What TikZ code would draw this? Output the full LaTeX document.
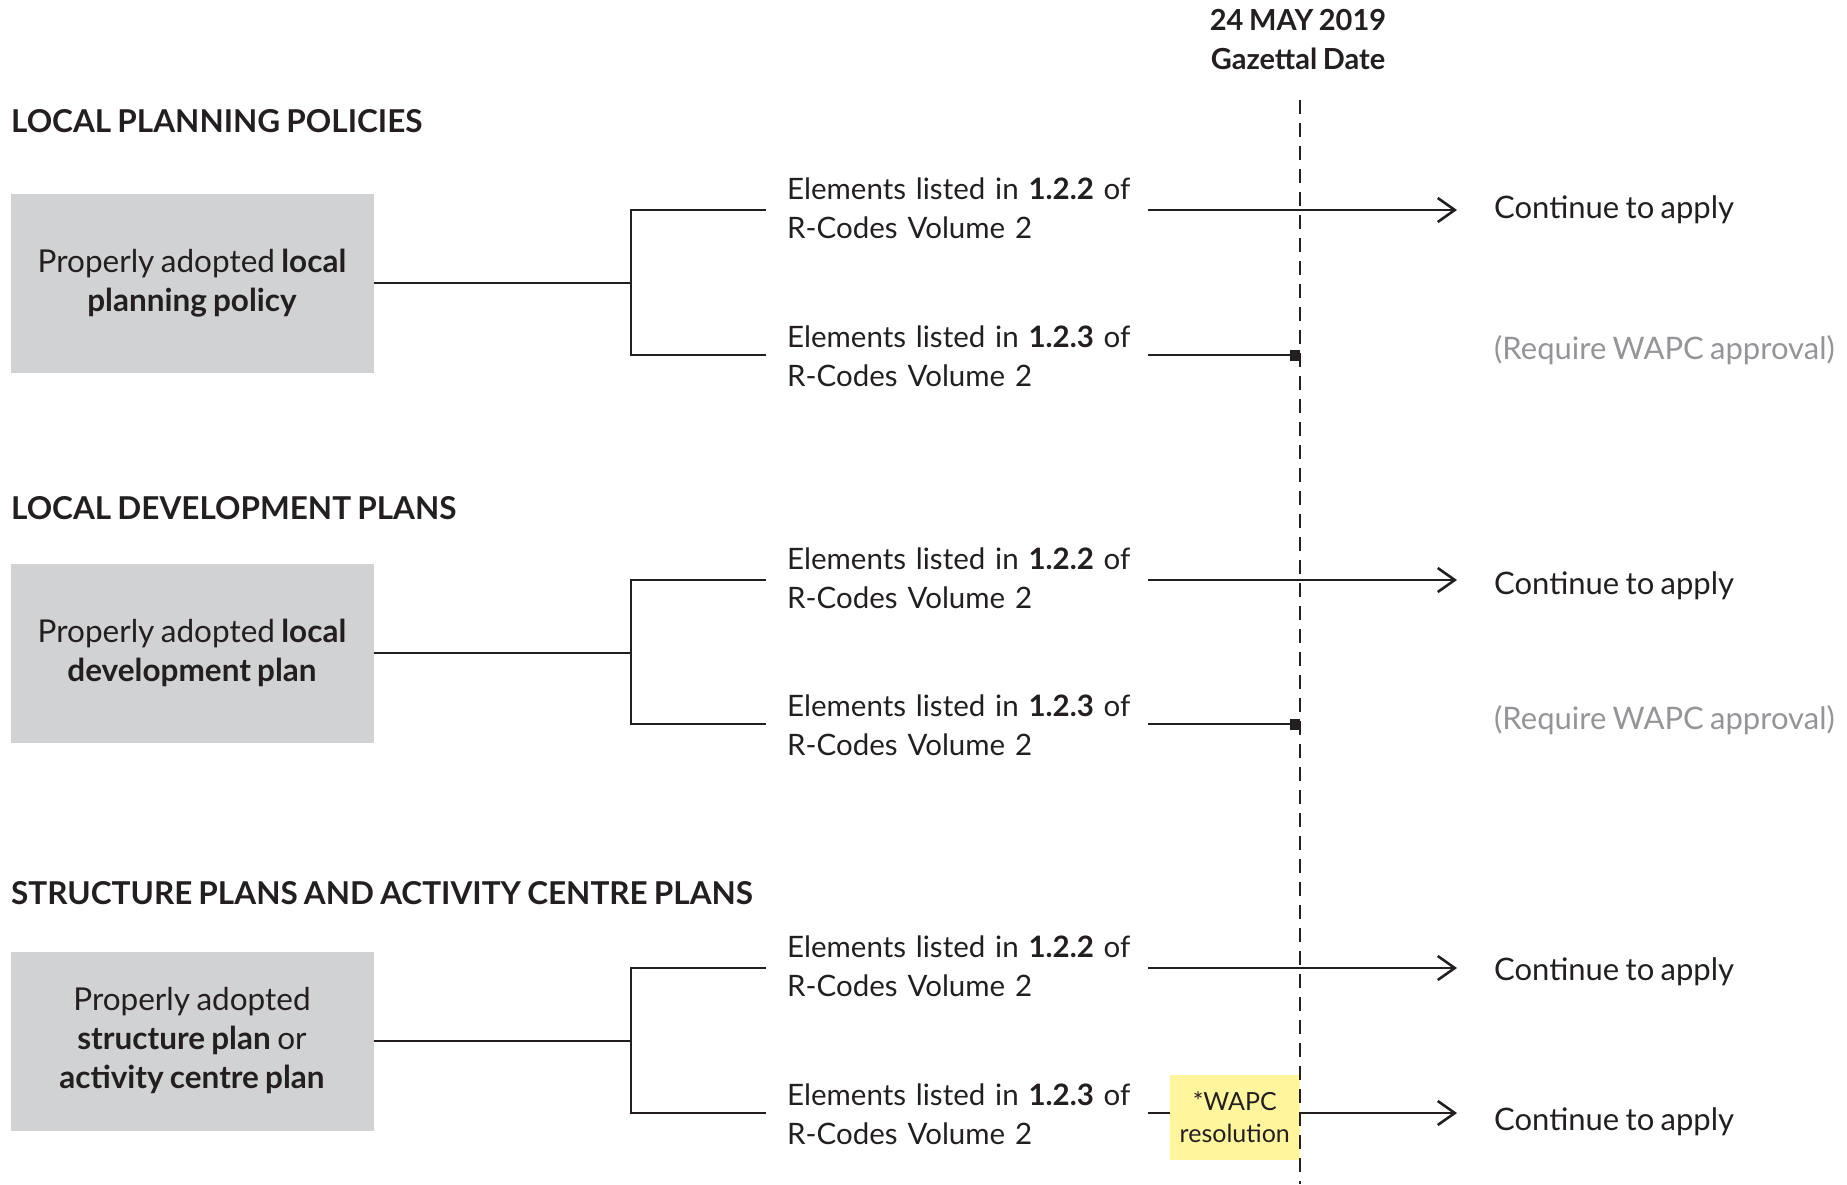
\documentclass[tikz,border=0pt]{standalone}
\usepackage{fontspec}
\setmainfont{Lato}[WordSpace=0.8]
\usetikzlibrary{arrows.meta}
\definecolor{ink}{HTML}{231F20}
\definecolor{boxgray}{HTML}{D1D2D4}
\definecolor{softgray}{HTML}{939598}
\definecolor{note}{HTML}{FFF59D}
\tikzset{
  gbox/.style={fill=boxgray, minimum width=363pt, minimum height=179pt, align=center, inner sep=0pt, font=\fontsize{31.5}{39}\selectfont},
  elem/.style={anchor=west, text width=340pt, align=left, inner sep=0pt, font=\fontsize{29.5}{39}\selectfont},
  head/.style={anchor=west, inner sep=0pt, font=\fontsize{31.5}{36}\selectfont\bfseries},
  res/.style={anchor=west, inner sep=0pt},
  ln/.style={draw=ink, line width=2.6pt},
  arr/.style={ln, -{Straight Barb[length=17pt,width=24pt]}},
  sqend/.style={ln, -{Square[length=10pt,width=11pt]}},
  gazline/.style={draw=ink, line width=2.2pt, dash pattern=on 14pt off 9pt},
  notebox/.style={fill=note, minimum width=130pt, minimum height=85pt, align=center, inner sep=0pt, font=\fontsize{25}{32}\selectfont}
}
\newcommand{\elemtext}[1]{\mbox{Elements listed in \textbf{#1} of}\\\mbox{R-Codes Volume 2}}
\begin{document}
\begin{tikzpicture}[x=1pt,y=-1pt, font=\fontsize{31}{39}\selectfont, text=ink]
\useasboundingbox (0,0) rectangle (1847,1184);

% title and gazettal line
\node[font=\fontsize{29}{39}\selectfont\bfseries, align=center, inner sep=0pt] (gd) at (1298,40) {24 MAY 2019\\Gazettal Date};
\coordinate (gtop) at (1300,100);
\coordinate (gbot) at (1300,1184);

% headings
\node[head] (h1) at (11,121) {LOCAL PLANNING POLICIES};
\node[head] (h2) at (11,508) {LOCAL DEVELOPMENT PLANS};
\node[head] (h3) at (11,893) {STRUCTURE PLANS AND ACTIVITY CENTRE PLANS};

% boxes
\node[gbox] (b1) at (192,283) {Properly adopted \textbf{local}\\\textbf{planning policy}};
\node[gbox] (b2) at (192,653) {Properly adopted \textbf{local}\\\textbf{development plan}};
\node[gbox] (b3) at (192,1041) {Properly adopted\\\textbf{structure plan} or\\\textbf{activity centre plan}};

% element texts
\node[elem] (e1a) at (787,208) {\elemtext{1.2.2}};
\node[elem] (e1b) at (787,356) {\elemtext{1.2.3}};
\node[elem] (e2a) at (787,578) {\elemtext{1.2.2}};
\node[elem] (e2b) at (787,725) {\elemtext{1.2.3}};
\node[elem] (e3a) at (787,966) {\elemtext{1.2.2}};
\node[elem] (e3b) at (787,1114) {\elemtext{1.2.3}};

% results
\node[res] (c1) at (1494,210) {Continue to apply};
\node[res, text=softgray] (r1) at (1494,350) {(Require WAPC approval)};
\node[res] (c2) at (1494,586) {Continue to apply};
\node[res, text=softgray] (r2) at (1494,720) {(Require WAPC approval)};
\node[res] (c3) at (1494,972) {Continue to apply};
\node[res] (c4) at (1494,1122) {Continue to apply};

% WAPC resolution
\node[notebox, anchor=east] (w) at (1300,1117) {*WAPC\\resolution};

% junctions
\coordinate (j1) at (631,283);
\coordinate (j2) at (631,653);
\coordinate (j3) at (631,1041);
\coordinate (k1a) at (766,210);
\coordinate (k1b) at (766,355);
\coordinate (k2a) at (766,580);
\coordinate (k2b) at (766,724);
\coordinate (k3a) at (766,968);
\coordinate (k3b) at (766,1113);

\draw[ln] (b1.east) -- (j1);
\draw[ln] (k1a) -| (j1) |- (k1b);
\draw[ln] (b2.east) -- (j2);
\draw[ln] (k2a) -| (j2) |- (k2b);
\draw[ln] (b3.east) -- (j3);
\draw[ln] (k3a) -| (j3) |- (k3b);

% arrow start / end points
\coordinate (s1a) at (1148,210);
\coordinate (s1b) at (1148,355);
\coordinate (s2a) at (1148,580);
\coordinate (s2b) at (1148,724);
\coordinate (s3a) at (1148,968);
\coordinate (s3b) at (1148,1113);
\coordinate (t1) at ([xshift=-37pt]c1.west);
\coordinate (t2) at ([xshift=-37pt]c2.west);
\coordinate (t3) at ([xshift=-37pt]c3.west);
\coordinate (t4) at ([xshift=-37pt]c4.west);

\draw[arr] (s1a) -- (t1 |- s1a);
\draw[sqend] (s1b) -- (gtop |- s1b);
\draw[arr] (s2a) -- (t2 |- s2a);
\draw[sqend] (s2b) -- (gtop |- s2b);
\draw[arr] (s3a) -- (t3 |- s3a);
\draw[ln] (s3b) -- (w.west |- s3b);
\draw[arr] (w.east |- s3b) -- (t4 |- s3b);

% gazettal dashed line
\draw[gazline] (gtop) -- (gbot);
\end{tikzpicture}
\end{document}
